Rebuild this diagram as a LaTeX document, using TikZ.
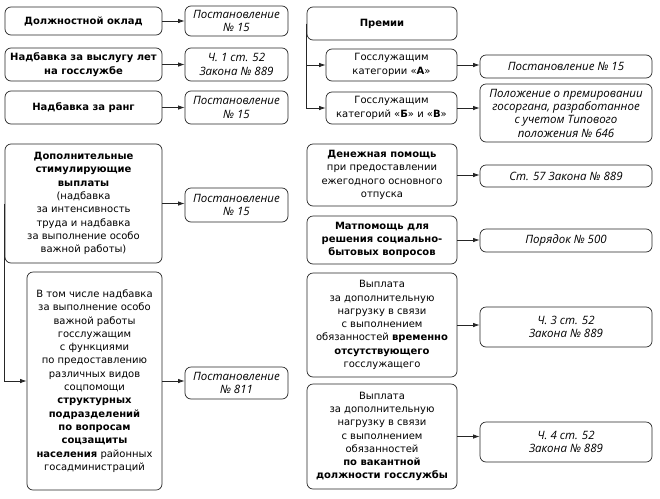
\documentclass[tikz,border=0pt]{standalone}
\usepackage{fontspec}
\setmainfont{DejaVu Sans}
\newfontfamily\reffont{Open Sans}
\usetikzlibrary{arrows.meta}
\begin{document}
\begin{tikzpicture}[x=1pt,y=-1pt,
  box/.style={draw=black!85, line width=0.7pt, rounded corners=6pt, align=center,
    inner sep=1pt, font=\fontsize{10}{13.3}\selectfont},
  ref/.style={box, font=\reffont\fontsize{11.5}{13.3}\selectfont\itshape},
  arr/.style={draw=black!85, line width=0.7pt, -{Latex[length=6.5pt,width=4.4pt]}},
  ln/.style={draw=black!85, line width=0.7pt}]
\useasboundingbox (0,0) rectangle (660,498);
% left column
\node[box, minimum width=157, minimum height=28] (L1) at (83.5,21) {\textbf{Должностной оклад}};
\node[ref, minimum width=103, minimum height=30] (R1) at (236.5,21) {Постановление\\№ 15};
\node[box, minimum width=157, minimum height=33] (L2) at (83.5,64.5) {\textbf{Надбавка за выслугу лет}\\\textbf{на госслужбе}};
\node[ref, minimum width=103, minimum height=33] (R2) at (236.5,64.5) {Ч. 1 ст. 52\\Закона № 889};
\node[box, minimum width=157, minimum height=33] (L3) at (83.5,107.5) {\textbf{Надбавка за ранг}};
\node[ref, minimum width=103, minimum height=33] (R3) at (236.5,107.5) {Постановление\\№ 15};
\node[box, minimum width=157, minimum height=119] (L4) at (83.5,203.5) {\textbf{Дополнительные}\\\textbf{стимулирующие}\\\textbf{выплаты}\\(надбавка\\за интенсивность\\труда и надбавка\\за выполнение особо\\важной работы)};
\node[ref, minimum width=103, minimum height=34] (R4) at (236.5,205) {Постановление\\№ 15};
\node[box, minimum width=135, minimum height=218] (L5) at (94.5,381) {В том числе надбавка\\за выполнение особо\\важной работы\\госслужащим\\с функциями\\по предоставлению\\различных видов\\соцпомощи\\\textbf{структурных}\\\textbf{подразделений}\\\textbf{по вопросам}\\\textbf{соцзащиты}\\\textbf{населения} районных\\госадминистраций};
\node[ref, minimum width=103, minimum height=32] (R5) at (236.5,383) {Постановление\\№ 811};
% right column
\node[box, minimum width=150, minimum height=33] (P0) at (382,23.5) {\textbf{Премии}};
\node[box, minimum width=131, minimum height=32] (PA) at (391.5,65) {Госслужащим\\категории «\textbf{А}»};
\node[box, minimum width=131, minimum height=32] (PB) at (391.5,108) {Госслужащим\\категорий «\textbf{Б}» и «\textbf{В}»};
\node[ref, minimum width=172, minimum height=23] (RA) at (566,66.5) {Постановление № 15};
\node[ref, minimum width=172, minimum height=58] (RB) at (566,113) {Положение о премировании\\госоргана, разработанное\\с учетом Типового\\положения № 646};
\node[box, minimum width=150, minimum height=62] (D) at (382,175) {\textbf{Денежная помощь}\\при предоставлении\\ежегодного основного\\отпуска};
\node[ref, minimum width=172, minimum height=22] (RD) at (566,176) {Ст. 57 Закона № 889};
\node[box, minimum width=150, minimum height=48] (M) at (382,240) {\textbf{Матпомощь для}\\\textbf{решения социально-}\\\textbf{бытовых вопросов}};
\node[ref, minimum width=172, minimum height=23] (RM) at (566,240.5) {Порядок № 500};
\node[box, minimum width=150, minimum height=104] (V1) at (382,325) {Выплата\\за дополнительную\\нагрузку в связи\\с выполнением\\обязанностей \textbf{временно}\\\textbf{отсутствующего}\\госслужащего};
\node[ref, minimum width=172, minimum height=40] (RV1) at (566,327) {Ч. 3 ст. 52\\Закона № 889};
\node[box, minimum width=150, minimum height=105] (V2) at (382,436.5) {Выплата\\за дополнительную\\нагрузку в связи\\с выполнением\\обязанностей\\\textbf{по вакантной}\\\textbf{должности госслужбы}};
\node[ref, minimum width=172, minimum height=40] (RV2) at (566,442) {Ч. 4 ст. 52\\Закона № 889};
% connectors
\draw[arr] (L1.east) -- (L1.east -| R1.west);
\draw[arr] (L2.east) -- (L2.east -| R2.west);
\draw[arr] (L3.east) -- (L3.east -| R3.west);
\draw[arr] (L4.east) -- (L4.east -| R4.west);
\draw[arr] (L4.west) |- (L5.west);
\draw[arr] (L5.east) -- (L5.east -| R5.west);
\draw[arr] (P0.west) |- (PA.west);
\draw[arr] (P0.west) |- (PB.west);
\draw[arr] (PA.east) -- (PA.east -| RA.west);
\draw[arr] (PB.east) -- (PB.east -| RB.west);
\draw[arr] (D.east) -- (D.east -| RD.west);
\draw[arr] (M.east) -- (M.east -| RM.west);
\draw[arr] (V1.east) -- (V1.east -| RV1.west);
\draw[arr] (V2.east) -- (V2.east -| RV2.west);
\end{tikzpicture}
\end{document}
